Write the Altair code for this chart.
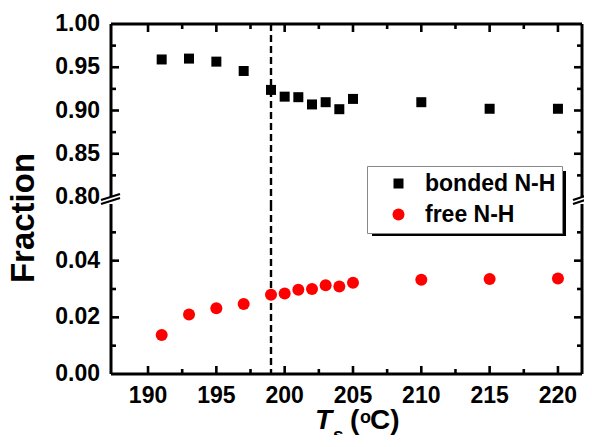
import altair as alt
import pandas as pd

# ---- data ----
T_s = [191, 193, 195, 197, 199, 200, 201, 202, 203, 204, 205, 210, 215, 220]
bonded = [0.959, 0.960, 0.9565, 0.9457, 0.9238, 0.916, 0.9154, 0.907, 0.9096, 0.9015, 0.9134, 0.9096, 0.902, 0.902]
free = [0.0138, 0.021, 0.0232, 0.0247, 0.028, 0.0284, 0.0297, 0.030, 0.0313, 0.0309, 0.0322, 0.0333, 0.0335, 0.0337]
series_names = ["bonded N-H", "free N-H"]
x_major = [190, 195, 200, 205, 210, 215, 220]
x_minor = [192.5, 197.5, 202.5, 207.5, 212.5, 217.5]
top_y_labels = [0.80, 0.85, 0.90, 0.95, 1.00]
top_y_major = [0.85, 0.90, 0.95]
top_y_minor = [0.825, 0.875, 0.925, 0.975]
bot_y_labels = [0.00, 0.02, 0.04]
bot_y_major = [0.02, 0.04]
bot_y_minor = [0.01, 0.03, 0.05]
transition_T = [199]

FONT = "Liberation Sans"
W, H1, H2, GAP = 471, 173, 170, 7
XDOM = [187.29, 221.76]
MAJ, MIN = 8, 5
LW = 2.6
LABEL_SIZE = 23
PAD_L, PAD_T = 103, 16
SVG_W, SVG_H = 576, 427

df = pd.DataFrame({
    "T": T_s * 2,
    "frac": bonded + free,
    "series": [series_names[0]] * len(T_s) + [series_names[1]] * len(T_s),
})

xs = alt.Scale(domain=XDOM, nice=False, zero=False)
ys_top = alt.Scale(domain=[0.80, 1.00], nice=False, zero=False)
ys_bot = alt.Scale(domain=[0.0, 0.06], nice=False, zero=False)

color = alt.Color("series:N", scale=alt.Scale(domain=series_names, range=["black", "#ff0000"]),
                  legend=alt.Legend(title=None, orient="none", legendX=256, legendY=142,
                                    fillColor="white", strokeColor="#888888", padding=6,
                                    labelFont=FONT, labelFontWeight="bold", labelFontSize=23,
                                    labelColor="black", symbolOffset=14, labelOffset=15,
                                    rowPadding=7, symbolStrokeWidth=0))
shape = alt.Shape("series:N", scale=alt.Scale(domain=series_names, range=["square", "circle"]),
                  legend=alt.Legend(title=None))
size = alt.Size("series:N", scale=alt.Scale(domain=series_names, range=[100, 144]),
                legend=alt.Legend(title=None))

one = pd.DataFrame({"a": [0]})


def xticks(vals, y0, y1):
    return alt.Chart(pd.DataFrame({"v": vals})).mark_rule(color="black", strokeWidth=LW).encode(
        x=alt.X("v:Q", scale=xs, axis=None), y=alt.value(y0), y2=alt.value(y1))


def yticks(vals, scale, x0, x1):
    return alt.Chart(pd.DataFrame({"v": vals})).mark_rule(color="black", strokeWidth=LW).encode(
        y=alt.Y("v:Q", scale=scale, axis=None), x=alt.value(x0), x2=alt.value(x1))


def ylabels(vals, scale):
    return alt.Chart(pd.DataFrame({"v": vals})).mark_text(
        align="right", baseline="middle", font=FONT, fontWeight="bold",
        fontSize=LABEL_SIZE, color="black").encode(
        y=alt.Y("v:Q", scale=scale, axis=None), x=alt.value(-11),
        text=alt.Text("v:Q", format=".2f"))


def xlabels(vals, y):
    return alt.Chart(pd.DataFrame({"v": vals})).mark_text(
        align="center", baseline="top", font=FONT, fontWeight="bold",
        fontSize=LABEL_SIZE, color="black").encode(
        x=alt.X("v:Q", scale=xs, axis=None), y=alt.value(y),
        text=alt.Text("v:Q", format="d"))


def frame(x0, x1, y0, y1):
    return alt.Chart(one).mark_rule(color="black", strokeWidth=3).encode(
        x=alt.value(x0), x2=alt.value(x1), y=alt.value(y0), y2=alt.value(y1))


def brk(x0, y0, x1, y1):
    return alt.Chart(one).mark_rule(color="black", strokeWidth=2.2).encode(
        x=alt.value(x0), x2=alt.value(x1), y=alt.value(y0), y2=alt.value(y1))


def txt(s, x, y, size_, italic=False, angle=0, align="left", baseline="alphabetic"):
    return alt.Chart(one).mark_text(text=s, font=FONT, fontWeight="bold",
                                    fontStyle="italic" if italic else "normal",
                                    fontSize=size_, color="black", angle=angle,
                                    align=align, baseline=baseline).encode(
        x=alt.value(x), y=alt.value(y))


vline_df = pd.DataFrame({"T": transition_T})

# ---- top panel ----
top_pts = alt.Chart(df).transform_filter(alt.datum.series == series_names[0]).mark_point(
    filled=True, opacity=1).encode(
    x=alt.X("T:Q", scale=xs, axis=None),
    y=alt.Y("frac:Q", scale=ys_top, axis=None),
    color=color, shape=shape, size=size)
top_vline = alt.Chart(vline_df).mark_rule(color="black", strokeWidth=2.4, strokeDash=[7, 4]).encode(
    x=alt.X("T:Q", scale=xs, axis=None), y=alt.value(0), y2=alt.value(H1 + GAP))
shadow = alt.Chart(one).mark_rect(color="black").encode(
    x=alt.value(261), x2=alt.value(455), y=alt.value(147), y2=alt.value(212))

top = alt.layer(
    shadow, top_vline,
    frame(0, 0, 0, H1), frame(W, W, 0, H1), frame(0, W, 0, 0),
    xticks(x_major, 0, MAJ), xticks(x_minor, 0, MIN),
    yticks(top_y_major, ys_top, 0, MAJ), yticks(top_y_minor, ys_top, 0, MIN),
    yticks(top_y_major, ys_top, W - MAJ, W), yticks(top_y_minor, ys_top, W - MIN, W),
    ylabels(top_y_labels, ys_top),
    top_pts,
).properties(width=W, height=H1)

# ---- bottom panel ----
bot_pts = alt.Chart(df).transform_filter(alt.datum.series == series_names[1]).mark_point(
    filled=True, opacity=1).encode(
    x=alt.X("T:Q", scale=xs, axis=None),
    y=alt.Y("frac:Q", scale=ys_bot, axis=None),
    color=color, shape=shape, size=size)
bot_vline = alt.Chart(vline_df).mark_rule(color="black", strokeWidth=2.4, strokeDash=[7, 4]).encode(
    x=alt.X("T:Q", scale=xs, axis=None), y=alt.value(0), y2=alt.value(H2))

bottom = alt.layer(
    bot_vline,
    frame(0, 0, 0, H2), frame(W, W, 0, H2), frame(0, W, H2, H2),
    xticks(x_major, H2 - MAJ, H2), xticks(x_minor, H2 - MIN, H2),
    yticks(bot_y_major, ys_bot, 0, MAJ), yticks(bot_y_minor, ys_bot, 0, MIN),
    yticks(bot_y_major, ys_bot, W - MAJ, W), yticks(bot_y_minor, ys_bot, W - MIN, W),
    ylabels(bot_y_labels, ys_bot),
    xlabels(x_major, H2 + 11),
    brk(-10, 0, 9, -6), brk(-10, -4, 9, -10),
    brk(W - 9, 0, W + 9, -6), brk(W - 9, -4, W + 9, -10),
    txt("Fraction", -87, 14, 33, angle=270, align="center", baseline="middle"),
    txt("T", 204, 225, 28, italic=True),
    txt("s", 222, 237, 19),
    txt("(", 239, 225, 28),
    txt("o", 249, 219, 18),
    txt("C)", 259, 225, 28),
    bot_pts,
).properties(width=W, height=H2)

# With autosize "none" this vconcat takes its width from the panels but not its
# height, so the bottom padding supplies the full vertical extent.
chart = alt.vconcat(top, bottom, spacing=GAP).resolve_scale(
    color="shared", shape="shared", size="shared"
).resolve_legend(color="shared", shape="shared", size="shared").properties(
    autosize=alt.AutoSizeParams(type="none"),
    padding={"left": PAD_L, "top": PAD_T,
             "right": SVG_W - PAD_L - W, "bottom": SVG_H - PAD_T},
    bounds="flush",
).configure_view(stroke=None)

chart.save("out.html", embed_options={"renderer": "svg", "actions": False})
